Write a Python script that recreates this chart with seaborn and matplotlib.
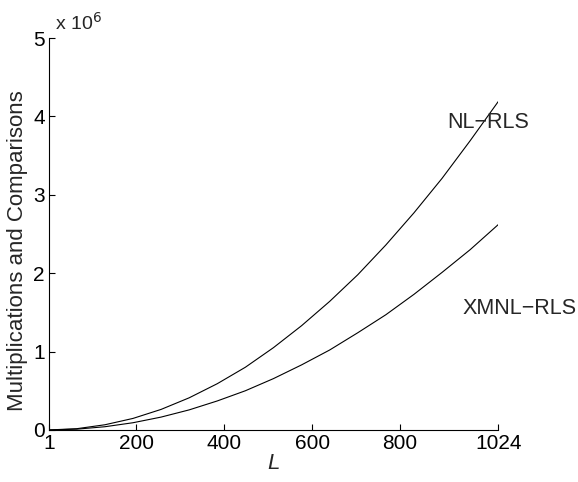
import matplotlib
matplotlib.use("Agg")
import matplotlib.pyplot as plt
import seaborn as sns
import pandas as pd

# values (in units of 10^6)
filter_length = [1, 64, 128, 192, 256, 320, 384, 448, 512, 576, 640, 704, 768, 832, 896, 960, 1024]
nl_rls = [0.0, 0.016, 0.066, 0.147, 0.262, 0.41, 0.59, 0.80, 1.05, 1.33, 1.64, 1.98, 2.36, 2.77, 3.21, 3.69, 4.19]
xmnl_rls = [0.0, 0.010, 0.041, 0.092, 0.164, 0.256, 0.37, 0.50, 0.655, 0.83, 1.02, 1.24, 1.47, 1.73, 2.01, 2.30, 2.62]
x_ticks = [1, 200, 400, 600, 800, 1024]
y_ticks = [0, 1, 2, 3, 4, 5]

sns.set_theme(style="ticks")
plt.rcParams['font.family'] = ['Liberation Sans', 'DejaVu Sans']

df = pd.DataFrame({
    'L': filter_length * 2,
    'ops': nl_rls + xmnl_rls,
    'algo': ['NL-RLS'] * len(filter_length) + ['XMNL-RLS'] * len(filter_length),
})

fig = plt.figure(figsize=(5.78, 4.82), dpi=100)
ax = fig.add_axes([0.085, 0.108, 0.777, 0.813])
sns.lineplot(data=df, x='L', y='ops', hue='algo', palette=['black', 'black'],
             linewidth=0.8, legend=False, ax=ax)

ax.set_xlim(1, 1024)
ax.set_ylim(0, 5)
ax.set_xticks(x_ticks)
ax.set_yticks(y_ticks)
ax.tick_params(direction='in', length=4, width=0.8, labelsize=15, pad=3, colors='black')
sns.despine(ax=ax)
for s in ['left', 'bottom']:
    ax.spines[s].set_linewidth(0.8)
    ax.spines[s].set_color('black')

ax.set_xlabel('L', fontsize=16, style='italic', labelpad=0)
ax.set_ylabel('Multiplications and Comparisons', fontsize=16)
ax.yaxis.set_label_coords(-0.047, 0.457)

ax.text(0.012, 1.01, r'x 10$^6$', transform=ax.transAxes, fontsize=14, ha='left', va='bottom')
ax.text(1.068, 0.785, 'NL\u2212RLS', transform=ax.transAxes, fontsize=15.5, ha='right', va='center')
ax.text(1.174, 0.31, 'XMNL\u2212RLS', transform=ax.transAxes, fontsize=15.5, ha='right', va='center')

fig.savefig('out.png', dpi=100)
